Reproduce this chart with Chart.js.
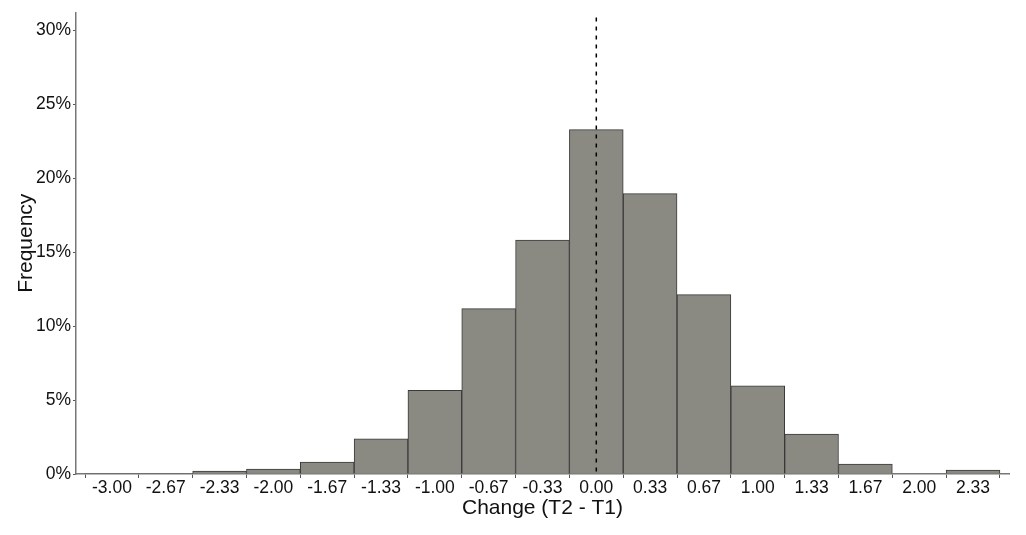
<!DOCTYPE html>
<html>
<head>
<meta charset="utf-8">
<script src="https://cdn.jsdelivr.net/npm/chart.js@4"></script>
<style>
  html, body { margin: 0; padding: 0; background: #fff; }
  #wrap { width: 1026px; height: 535px; }
</style>
</head>
<body>
<div id="wrap"><canvas id="myChart"></canvas></div>
<script>
// bin centres of the histogram (width 1/3)
const binCenters = [-3.0, -2.6667, -2.3333, -2.0, -1.6667, -1.3333, -1.0, -0.6667, -0.3333,
  0.0, 0.3333, 0.6667, 1.0, 1.3333, 1.6667, 2.0, 2.3333];
const tickLabels = ['-3.00', '-2.67', '-2.33', '-2.00', '-1.67', '-1.33', '-1.00', '-0.67', '-0.33',
  '0.00', '0.33', '0.67', '1.00', '1.33', '1.67', '2.00', '2.33'];
// share of people in each bin, in %
const frequency = [0.05, 0.05, 0.2, 0.34, 0.8, 2.38, 5.65, 11.18, 15.81,
  23.28, 18.96, 12.13, 5.96, 2.7, 0.67, 0, 0.27];
const yTicks = [0, 5, 10, 15, 20, 25, 30];
const refLine = 0;

const fontFamily = '"Liberation Sans", Arial, sans-serif';

const refLinePlugin = {
  id: 'refLine',
  afterDatasetsDraw(chart) {
    const ctx = chart.ctx;
    const x = chart.scales.x.getPixelForValue(refLine);
    ctx.save();
    ctx.strokeStyle = '#000';
    ctx.lineWidth = 1.5;
    ctx.setLineDash([4, 5]);
    ctx.beginPath();
    ctx.moveTo(x, chart.chartArea.top + 5);
    ctx.lineTo(x, chart.chartArea.bottom);
    ctx.stroke();
    ctx.restore();
  }
};

const data = {
  datasets: [{
    label: 'Frequency',
    data: binCenters.map((c, i) => ({ x: c, y: frequency[i] })),
    backgroundColor: '#8a8a82',
    borderColor: '#3a3a3a',
    borderWidth: 1,
    barPercentage: 1,
    categoryPercentage: 1
  }]
};

const config = {
  type: 'bar',
  data: data,
  plugins: [refLinePlugin],
  options: {
    responsive: true,
    maintainAspectRatio: false,
    animation: false,
    layout: { padding: { top: 12, right: 17, left: 0, bottom: 0 } },
    plugins: {
      legend: { display: false },
      tooltip: { enabled: false }
    },
    scales: {
      x: {
        type: 'linear',
        offset: false,
        min: -3.2225,
        max: 2.556,
        afterFit: s => { s.height = 61; },
        afterBuildTicks: s => { s.ticks = binCenters.map(v => ({ value: v })); },
        grid: { drawOnChartArea: false, drawTicks: true, tickLength: 4, color: '#555' },
        border: { display: true, color: '#777', width: 1.5 },
        ticks: {
          autoSkip: false,
          maxRotation: 0,
          padding: 0,
          color: '#111',
          font: { family: fontFamily, size: 17.5 },
          callback: (v, i) => tickLabels[i]
        },
        title: {
          display: true,
          text: 'Change (T2 - T1)',
          color: '#111',
          font: { family: fontFamily, size: 21 },
          padding: { top: 0, bottom: 14 }
        }
      },
      y: {
        min: 0,
        max: 31.2,
        afterFit: s => { s.width = 76; },
        afterBuildTicks: s => { s.ticks = yTicks.map(v => ({ value: v })); },
        grid: { drawOnChartArea: false, drawTicks: true, tickLength: 3, color: '#555' },
        border: { display: true, color: '#777', width: 1.5 },
        ticks: {
          padding: 2,
          color: '#111',
          font: { family: fontFamily, size: 17.5 },
          callback: v => v + '%'
        },
        title: {
          display: true,
          text: 'Frequency',
          color: '#111',
          font: { family: fontFamily, size: 21 },
          padding: { top: 14, bottom: 0 }
        }
      }
    }
  }
};

const myChart = new Chart(document.getElementById('myChart'), config);
</script>
</body>
</html>
